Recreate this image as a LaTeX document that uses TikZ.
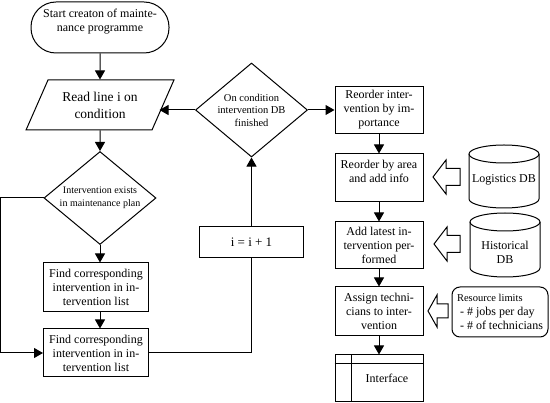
\documentclass[tikz,border=0pt]{standalone}
\usepackage{fontspec}
\setmainfont{Liberation Serif}
\usetikzlibrary{arrows.meta,shapes.geometric}

\begin{document}
\begin{tikzpicture}[x=1pt,y=-1pt,line width=1pt,font=\fontsize{12}{14}\selectfont,
  box/.style={draw,rectangle,align=center,inner sep=1pt},
  test/.style={draw,diamond,aspect=1.2,inner sep=0pt,align=center},
  flow/.style={-{Triangle[length=9pt,width=10pt]}}]
\useasboundingbox (0,0) rectangle (550,403);

% left column
\node[draw,rectangle,rounded corners=25pt,minimum width=138,minimum height=51,align=center] (start) at (100,27.5) {Start creaton of mainte-\\nance programme\\~};
\node[draw,trapezium,trapezium left angle=59,trapezium right angle=121,trapezium stretches,minimum width=148,minimum height=50,inner sep=0pt,align=center,font=\fontsize{13.5}{17}\selectfont] (read) at (100,105) {Read line i on\\condition};
\node[test,minimum width=112,minimum height=93,font=\fontsize{10}{12.5}\selectfont] (exists) at (100,198) {Intervention exists\\in maintenance plan};
\node[box,minimum width=105,minimum height=49] (find1) at (96,287.5) {Find corresponding\\intervention in in-\\tervention list};
\node[box,minimum width=105,minimum height=48] (find2) at (96,353) {Find corresponding\\intervention in in-\\tervention list};

% loop
\node[box,minimum width=104,minimum height=31,font=\fontsize{13}{15}\selectfont] (incr) at (251.5,242.5) {i = i + 1};
\node[test,minimum width=112,minimum height=94,font=\fontsize{10.5}{12.5}\selectfont] (done) at (251.5,110) {On condition\\intervention DB\\finished};

% right column
\node[box,minimum width=88,minimum height=47] (reorder) at (379,110) {Reorder inter-\\vention by im-\\portance};
\node[box,minimum width=88,minimum height=48] (area) at (379,178) {Reorder by area\\and add info\\~};
\node[box,minimum width=88,minimum height=47] (latest) at (379,245.5) {Add latest in-\\tervention per-\\formed};
\node[box,minimum width=88,minimum height=49] (assign) at (379,311.5) {Assign techni-\\cians to inter-\\vention};
\node[box,minimum width=88,minimum height=47] (iface) at (379,378.5) {\hspace*{16pt}Interface};
\draw ([xshift=17pt]iface.north west) -- ([xshift=17pt]iface.south west);
\draw ([yshift=-9pt]iface.north west) -- ([yshift=-9pt]iface.north east);

% data sources
\foreach \cx/\ty/\by in {504/145/208, 505/213/277} {
  \draw (\cx-35,\ty+9) -- (\cx-35,\by-9) arc[start angle=180,end angle=360,x radius=35pt,y radius=9pt] -- (\cx+35,\ty+9);
  \draw (\cx,\ty+9) ellipse[x radius=35pt,y radius=9pt];
}
\node (logdb) at (504,180) {Logistics DB};
\node[align=center] (histdb) at (505,252) {Historical\\DB};
\node[draw,rounded corners=8pt,minimum width=96,minimum height=50,align=left,inner sep=2pt] (limits) at (500,312) {{\fontsize{10.5}{12}\selectfont Resource limits}\\\ - \# jobs per day\\\ - \# of technicians};
\foreach \tx/\hx/\ex/\my/\hh/\sh in {433/446/460/177/17/8.5, 434/447/460/244/17/8.5, 428/437/448/311/16/7}
  \draw (\tx,\my) -- (\hx,\my-\hh) -- (\hx,\my-\sh) -- (\ex,\my-\sh) -- (\ex,\my+\sh) -- (\hx,\my+\sh) -- (\hx,\my+\hh) -- cycle;

% connectors
\draw[flow] (start) -- (read);
\draw[flow] (read) -- (exists);
\draw[flow] (exists.south) -- (exists.south |- find1.north);
\draw[flow] (exists.south |- find1.south) -- (exists.south |- find2.north);
\draw[flow] (exists.west) -- ++(-43,0) |- (find2.west);
\draw (find2.east) -| (incr.south);
\draw[flow] (incr) -- (done);
\draw[flow,shorten >=-4pt] (done.west) -- (read.east |- done.west);
\draw[flow] (done) -- (reorder);
\foreach \a/\b in {reorder/area, area/latest, latest/assign, assign/iface}
  \draw[flow] (\a) -- (\b);

\end{tikzpicture}
\end{document}
